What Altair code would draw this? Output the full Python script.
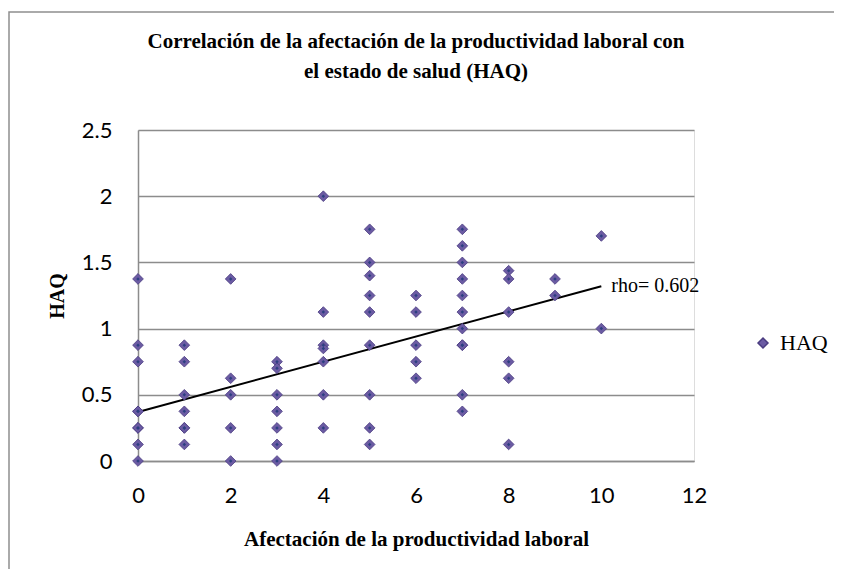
import altair as alt
import pandas as pd

# Data
x_vals = (
    [0] * 9 + [1] * 7 + [2] * 5 + [3] * 7 + [4] * 7 + [5] * 9 + [6] * 5 + [7] * 11 + [8] * 6 + [9] * 2 + [10] * 2
)
haq_vals = (
    [1.375, 0.875, 0.75, 0.375, 0.375, 0.25, 0.25, 0.125, 0]
    + [0.875, 0.75, 0.5, 0.375, 0.25, 0.25, 0.125]
    + [1.375, 0.625, 0.5, 0.25, 0]
    + [0.75, 0.7, 0.5, 0.375, 0.25, 0.125, 0]
    + [2.0, 1.125, 0.875, 0.85, 0.75, 0.5, 0.25]
    + [1.75, 1.5, 1.4, 1.25, 1.125, 0.875, 0.5, 0.25, 0.125]
    + [1.25, 1.125, 0.875, 0.75, 0.625]
    + [1.75, 1.625, 1.5, 1.375, 1.25, 1.125, 1.0, 0.875, 0.875, 0.5, 0.375]
    + [1.4375, 1.375, 1.125, 0.75, 0.625, 0.125]
    + [1.375, 1.25]
    + [1.7, 1.0]
)
trend_x = [0, 10]
trend_y = [0.37, 1.32]
rho_label = ["rho= 0.602"]
x_ticks = [0, 2, 4, 6, 8, 10, 12]
y_ticks = [0, 0.5, 1, 1.5, 2, 2.5]
title_lines = [
    "Correlación de la afectación de la productividad laboral con",
    "el estado de salud (HAQ)",
]
x_title = "Afectación de la productividad laboral"
y_title = "HAQ"
series_name = "HAQ"

points = pd.DataFrame({"x": x_vals, "y": haq_vals, "serie": series_name})
trend = pd.DataFrame({"x": trend_x, "y": trend_y})
label_df = pd.DataFrame({"x": [trend_x[-1]], "y": [trend_y[-1]], "t": rho_label})

GRAY = "#8c8c8c"
SERIF = "Liberation Serif"
SANS = "Lato"

xscale = alt.Scale(domain=[0, 12], nice=False, zero=False)
yscale = alt.Scale(domain=[0, 2.5], nice=False, zero=False)

xaxis = alt.Axis(
    values=x_ticks, title=x_title, grid=False, ticks=False,
    labelFont=SANS, labelFontSize=22, labelColor="black", labelPadding=24,
    titleFont=SERIF, titleFontSize=21, titleFontWeight="bold", titleColor="black",
    titlePadding=22, domainColor=GRAY, domainWidth=1.5, labelFlush=False,
)
yaxis = alt.Axis(
    values=y_ticks, title=y_title, grid=True, gridColor=GRAY, gridWidth=1.5,
    ticks=False, labelFont=SANS, labelFontSize=22, labelColor="black", labelPadding=26,
    labelExpr="datum.value + ''",
    titleFont=SERIF, titleFontSize=20, titleFontWeight="bold", titleColor="black",
    titlePadding=14, domainColor=GRAY, domainWidth=1.5, labelFlush=False,
)

border = alt.Chart(pd.DataFrame({"a": [0]})).mark_rect(
    fillOpacity=0, stroke="#8e8e8e", strokeWidth=1.5
).encode(
    x=alt.value(-129), x2=alt.value(697), y=alt.value(-118), y2=alt.value(440)
)

title1 = alt.Chart(pd.DataFrame({"a": [0]})).mark_text(
    font=SERIF, fontSize=21, fontWeight="bold", color="black", align="center", baseline="middle"
).encode(x=alt.value(278), y=alt.value(-88), text=alt.value(title_lines[0]))

title2 = alt.Chart(pd.DataFrame({"a": [0]})).mark_text(
    font=SERIF, fontSize=21, fontWeight="bold", color="black", align="center", baseline="middle"
).encode(x=alt.value(278), y=alt.value(-58), text=alt.value(title_lines[1]))

pts = alt.Chart(points).mark_point(
    shape="diamond", filled=True, size=115, stroke="#4a3c80", strokeWidth=0.8, opacity=1
).encode(
    x=alt.X("x:Q", scale=xscale, axis=xaxis),
    y=alt.Y("y:Q", scale=yscale, axis=yaxis),
    color=alt.Color(
        "serie:N",
        scale=alt.Scale(range=["#6b5ba3"]),
        legend=alt.Legend(
            title=None, orient="none", legendX=614, legendY=202, padding=0,
            symbolType="diamond", symbolSize=100, labelFont=SERIF, labelFontSize=22,
            labelColor="black", labelOffset=6, symbolStrokeColor="#4a3c80",
        ),
    ),
)

centers = alt.Chart(points).mark_point(
    shape="diamond", filled=True, size=12, color="#2c3f80", opacity=1
).encode(x=alt.X("x:Q", scale=xscale), y=alt.Y("y:Q", scale=yscale))

line = alt.Chart(trend).mark_line(color="black", strokeWidth=2).encode(
    x=alt.X("x:Q", scale=xscale), y=alt.Y("y:Q", scale=yscale)
)

label = alt.Chart(label_df).mark_text(
    align="left", baseline="middle", dx=10, font=SERIF, fontSize=20, color="black"
).encode(x=alt.X("x:Q", scale=xscale), y=alt.Y("y:Q", scale=yscale), text="t:N")

chart = (
    alt.layer(border, title1, title2, line, pts, centers, label)
    .properties(
        width=556,
        height=331,
        autosize=alt.AutoSizeParams(type="none"),
        padding={"left": 130, "top": 122, "right": 140, "bottom": 108},
    )
    .configure_view(stroke=None)
    .configure(background="white")
)

chart.save("out.html", embed_options={"renderer": "svg", "actions": False})
